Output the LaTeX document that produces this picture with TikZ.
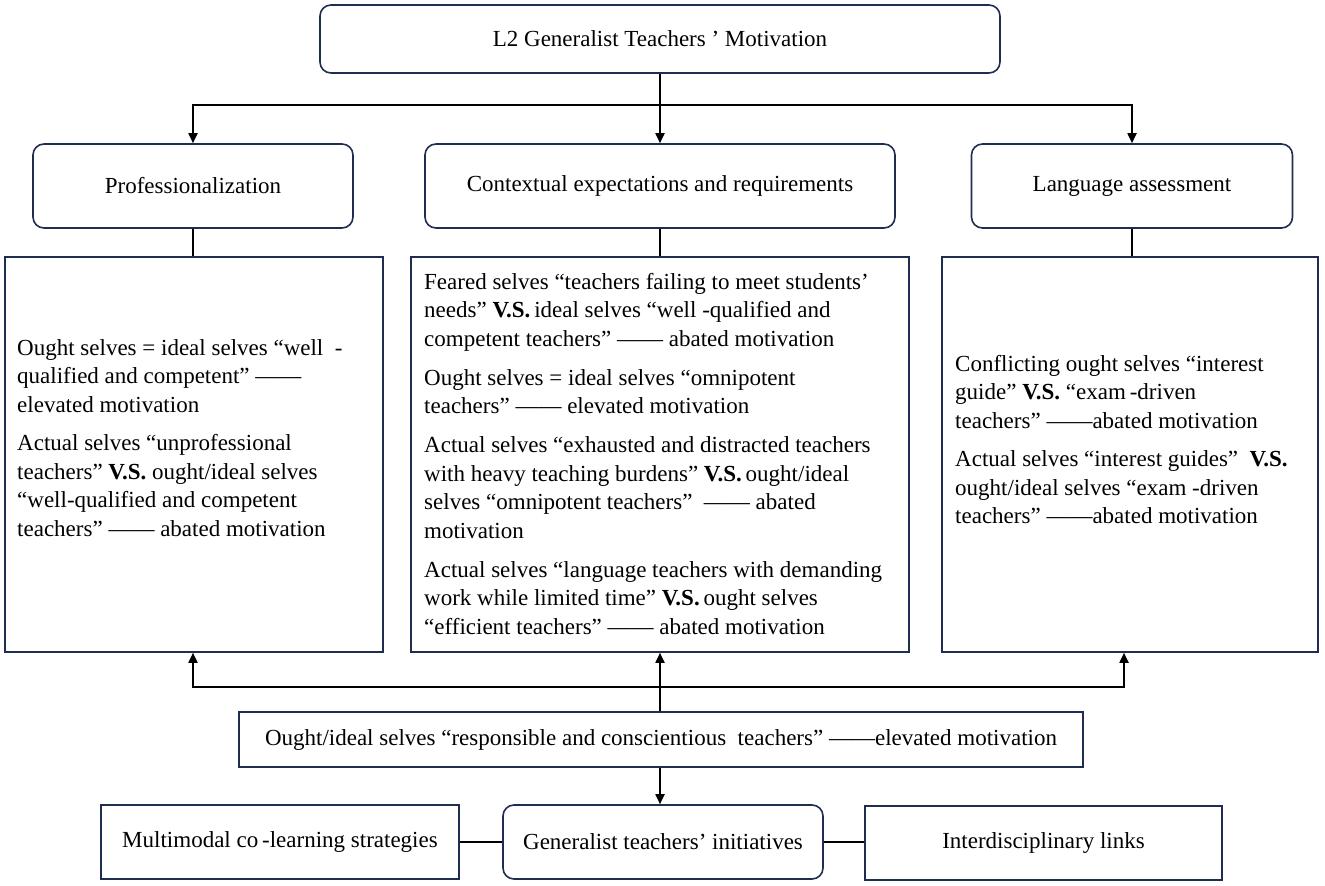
\documentclass[tikz,border=0pt]{standalone}
\usepackage{fontspec}
\setmainfont{Liberation Serif}
\usetikzlibrary{arrows.meta,calc}
\definecolor{navy}{HTML}{1F2D50}
\begin{document}
\begin{tikzpicture}[x=1pt,y=-1pt,
  every node/.style={font=\fontsize{23}{28.5}\selectfont},
  rbox/.style={draw=navy,line width=1.6pt,rounded corners=11pt,inner sep=0pt},
  sbox/.style={draw=navy,line width=1.6pt,inner sep=0pt},
  para/.style={anchor=north west,align=left,inner sep=0pt},
  conn/.style={line width=1.8pt,black},
  arr/.style={conn,-{Triangle[length=10pt,width=9pt]}}]
\useasboundingbox (0,0) rectangle (1325,886);
% top
\node[rbox,minimum width=680pt,minimum height=68pt] (top) at (660,39) {L2 Generalist Teachers ’ Motivation};
% categories
\node[rbox,minimum width=320pt,minimum height=84pt] (prof) at (193,186) {Professionalization};
\node[rbox,minimum width=470pt,minimum height=84pt] (ctx) at (660,186) {Contextual expectations and requirements};
\node[rbox,minimum width=321pt,minimum height=84pt] (lang) at (1132,186) {Language assessment};
% content boxes
\node[sbox,minimum width=378pt,minimum height=395pt] (cl) at (194,454.5) {};
\node[sbox,minimum width=498pt,minimum height=395pt] (cm) at (660,454.5) {};
\node[sbox,minimum width=376pt,minimum height=395pt] (cr) at (1130,454.5) {};
\node[para] (tl) at (17,339) {Ought selves = ideal selves “well \ -\\
qualified and competent” ——\\
elevated motivation\\[10pt]
Actual selves “unprofessional\\
teachers” \textbf{V.S.} ought/ideal selves\\
“well-qualified and competent\\
teachers” —— abated motivation};
\node[para] (tm) at (424,273) {Feared selves “teachers failing to meet students’\\
needs” \textbf{V.S.}\,ideal selves “well -qualified and\\
competent teachers” —— abated motivation\\[10.5pt]
Ought selves = ideal selves “omnipotent\\
teachers” —— elevated motivation\\[10.5pt]
Actual selves “exhausted and distracted teachers\\
with heavy teaching burdens” \textbf{V.S.}\,ought/ideal\\
selves “omnipotent teachers” \ —— abated\\
motivation\\[10.5pt]
Actual selves “language teachers with demanding\\
work while limited time” \textbf{V.S.}\,ought selves\\
“efficient teachers” —— abated motivation};
\node[para] (tr) at (955,355) {Conflicting ought selves “interest\\
guide” \textbf{V.S.} “exam\,-driven\\
teachers” ——abated motivation\\[10pt]
Actual selves “interest guides” \ \textbf{V.S.}\\
ought/ideal selves “exam -driven\\
teachers” ——abated motivation};
% bottom
\node[sbox,minimum width=844pt,minimum height=55pt] (ought) at (661,739.5) {Ought/ideal selves “responsible and conscientious \ teachers” ——elevated motivation};
\node[sbox,minimum width=358pt,minimum height=74pt] (mm) at (280,842) {Multimodal co\,-learning strategies};
\node[rbox,minimum width=320pt,minimum height=74pt] (gen) at (663,842) {Generalist teachers’ initiatives};
\node[sbox,minimum width=357pt,minimum height=74pt] (inter) at (1043.5,843) {Interdisciplinary links};
% connectors top
\coordinate (hub1) at (660,105);
\draw[arr] (top.south) -- (ctx.north);
\draw[arr] (hub1) -| (prof.north);
\draw[arr] (hub1) -| (lang.north);
\draw[conn] (prof.south) -- (prof.south |- cl.north);
\draw[conn] (ctx.south) -- (ctx.south |- cm.north);
\draw[conn] (lang.south) -- (lang.south |- cr.north);
% connectors bottom
\coordinate (hub2) at (660,687);
\coordinate (crin) at ($(cr.south)+(-6,0)$);
\draw[arr] (cm.south |- ought.north) -- (cm.south);
\draw[arr] (hub2) -| (prof.south |- cl.south);
\draw[arr] (hub2) -| (crin);
\draw[arr] (ought.south -| cm.south) -- (gen.north -| cm.south);
\draw[conn] (mm.east) -- (gen.west);
\draw[conn] (gen.east) -- (inter.west |- gen.east);
\end{tikzpicture}
\end{document}
